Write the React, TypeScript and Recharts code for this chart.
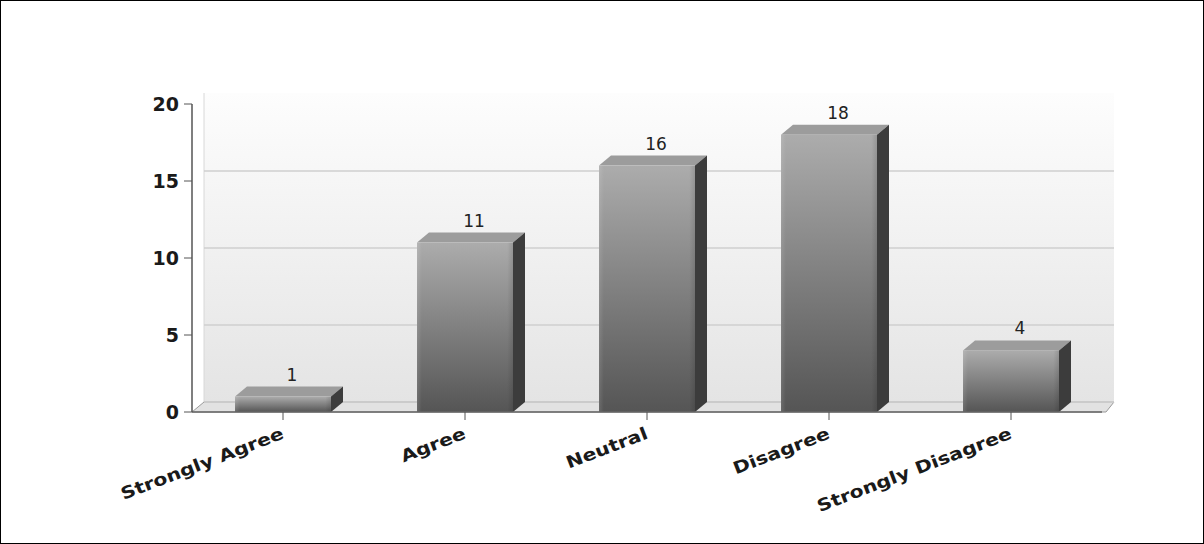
import React from 'react';
import {
  Bar,
  BarChart,
  CartesianGrid,
  LabelList,
  ReferenceArea,
  XAxis,
  YAxis
} from 'recharts';

const categories = ['Strongly Agree', 'Agree', 'Neutral', 'Disagree', 'Strongly Disagree'];
const counts = [1, 11, 16, 18, 4];
const yTicks = [0, 5, 10, 15, 20];

const data = categories.map((name, i) => ({ name, value: counts[i] }));

// 3d depth of the bars and the back wall
const DX = 12;
const DY = 10;
const TOP = 103;
const FONT = '"DejaVu Sans", Verdana, sans-serif';

const Wall = (props: any) => {
  const { x, y, width, height } = props;
  const bottom = y + height;
  return (
    <g>
      <rect x={x + DX} y={y - DY - 1} width={width} height={height + 1} fill="url(#wallGrad)" />
      <line x1={x + DX} y1={y - DY - 1} x2={x + DX} y2={bottom - DY} stroke="#d8d8d8" />
      <polygon
        points={`${x},${bottom} ${x + DX},${bottom - DY} ${x + width + DX},${bottom - DY} ${x + width + 4},${bottom}`}
        fill="#e2e2e2"
        stroke="#9a9a9a"
        strokeWidth={1}
      />
    </g>
  );
};

const Bar3D = (props: any) => {
  const { x, y, width, height } = props;
  if (height <= 0) return null;
  return (
    <g>
      <polygon
        points={`${x},${y} ${x + DX},${y - DY} ${x + width + DX},${y - DY} ${x + width},${y}`}
        fill="#9c9c9c"
      />
      <polygon
        points={`${x + width},${y} ${x + width + DX},${y - DY} ${x + width + DX},${y + height - DY} ${x + width},${y + height}`}
        fill="#3c3c3c"
      />
      <rect x={x} y={y} width={width} height={height} fill="url(#barGrad)" />
      <rect x={x} y={y} width={width} height={height} fill="url(#barEdge)" />
    </g>
  );
};

const ValueLabel = (props: any) => {
  const { x, y, width, value } = props;
  return (
    <text
      x={x + width / 2 + DX / 2 + 3}
      y={y - DY - 6}
      textAnchor="middle"
      fontFamily={FONT}
      fontSize={17}
      fill="#222"
    >
      {value}
    </text>
  );
};

const CategoryTick = (props: any) => {
  const { x, y, payload } = props;
  return (
    <g transform={`translate(${x + 2},${y + 16})`}>
      <text
        x={0}
        y={0}
        textAnchor="end"
        transform="rotate(-21) scale(1.2,1)"
        fontFamily={FONT}
        fontWeight="bold"
        fontSize={17}
        fill="#1a1a1a"
      >
        {payload.value}
      </text>
    </g>
  );
};

const GridLine = (props: any) => {
  const { x1, y1, x2, y2 } = props;
  // no line along the top edge of the back wall
  if (y1 < TOP + 2) return <g />;
  return <line x1={x1 + DX} y1={y1 - DY} x2={x2 + DX} y2={y2 - DY} stroke="#cfcfcf" strokeWidth={1.5} />;
};

export default function App() {
  return (
    <div
      style={{
        position: 'absolute',
        left: 0,
        top: 0,
        width: 1204,
        height: 544,
        boxSizing: 'border-box',
        border: '1px solid #000',
        background: '#fff'
      }}
    >
      <BarChart
        width={1202}
        height={542}
        data={data}
        margin={{ top: TOP, right: 101, bottom: 31, left: 131 }}
      >
        <defs>
          <linearGradient id="wallGrad" x1="0" y1="0" x2="0" y2="1">
            <stop offset="0%" stopColor="#fdfdfd" />
            <stop offset="100%" stopColor="#e4e4e4" />
          </linearGradient>
          <linearGradient id="barGrad" x1="0" y1="0" x2="0" y2="1">
            <stop offset="0%" stopColor="#acacac" />
            <stop offset="100%" stopColor="#555555" />
          </linearGradient>
          <linearGradient id="barEdge" x1="0" y1="0" x2="1" y2="0">
            <stop offset="0%" stopColor="#ffffff" stopOpacity={0.12} />
            <stop offset="5%" stopColor="#ffffff" stopOpacity={0} />
            <stop offset="94%" stopColor="#000000" stopOpacity={0} />
            <stop offset="100%" stopColor="#000000" stopOpacity={0.12} />
          </linearGradient>
        </defs>
        <ReferenceArea y1={0} y2={20} shape={<Wall />} ifOverflow="visible" zIndex={-200} />
        <CartesianGrid
          vertical={false}
          horizontal={(p: any) => <GridLine {...p} />}
          stroke="#cfcfcf"
          zIndex={-100}
        />
        <XAxis
          dataKey="name"
          height={100}
          interval={0}
          tickSize={8}
          axisLine={{ stroke: '#666', strokeWidth: 1.5 }}
          tickLine={{ stroke: '#555' }}
          tick={<CategoryTick />}
        />
        <YAxis
          width={60}
          domain={[0, 20]}
          ticks={yTicks}
          tickSize={8}
          tickMargin={5}
          axisLine={{ stroke: '#555', strokeWidth: 1.5 }}
          tickLine={{ stroke: '#555' }}
          tick={{ fontFamily: FONT, fontWeight: 'bold', fontSize: 19, fill: '#1a1a1a' }}
        />
        <Bar dataKey="value" barSize={96} shape={<Bar3D />} isAnimationActive={false}>
          <LabelList dataKey="value" content={<ValueLabel />} />
        </Bar>
      </BarChart>
    </div>
  );
}
